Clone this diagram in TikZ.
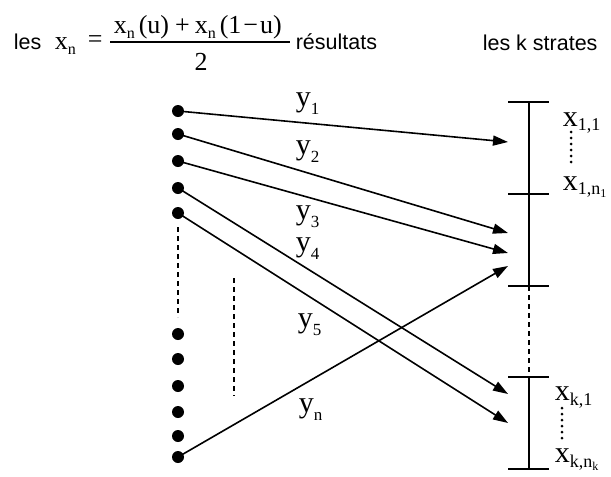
\documentclass[tikz,border=0pt]{standalone}
\usepackage{fontspec}
\setmainfont{Liberation Sans}
\newfontfamily\tms{Liberation Serif}
\usetikzlibrary{arrows.meta}
\newcommand\mysub[3]{\raisebox{-#1}{\fontsize{#2}{#2}\selectfont #3}}
\begin{document}
\begin{tikzpicture}[x=1pt,y=-1pt,line width=1.6pt,
  dotnode/.style={circle,fill=black,draw=none,inner sep=0pt,minimum size=12pt},
  arr/.style={-{Triangle[length=15pt,width=10pt]}},
  ylab/.style={anchor=base west,inner sep=0pt,font=\tms\fontsize{30}{30}\selectfont},
  xlab/.style={anchor=base west,inner sep=0pt,font=\tms\fontsize{30}{30}\selectfont},
  hdr/.style={anchor=base west,inner sep=0pt,font=\fontsize{21.5}{21.5}\selectfont},
  eq/.style={anchor=base west,inner sep=0pt,font=\tms\fontsize{26}{26}\selectfont},
  dashv/.style={line width=1.3pt,dash pattern=on 5pt off 4pt},
  tick/.style={line width=1.6pt},
  smalldots/.style={line width=3pt,line cap=round,dash pattern=on 0pt off 6pt}]
\useasboundingbox (0,0) rectangle (611,477);

% header
\node[hdr] (les) at (13,49) {les};
\node[eq] (xn) at (54,49) {x\mysub{5pt}{16}{n}};
\node[eq] (eqs) at (87,47) {=};
\node[eq] (num) at (113,33) {x\mysub{5pt}{16}{n}\hspace{4pt}(u)\hspace{6pt}+\hspace{5pt}x\mysub{5pt}{16}{n}\hspace{4pt}(1\hspace{2pt}−\hspace{2pt}u)};
\coordinate (fl) at (110,42);
\coordinate (fr) at (290,42);
\draw[line width=1.2pt] (fl) -- (fr);
\node[eq,anchor=base] (den) at (201,70) {2};
\node[hdr] (res) at (295,49) {résultats};
\node[hdr] (strates) at (482,50) {les k strates};

% left dots
\node[dotnode] (d1) at (178,111) {};
\node[dotnode] (d2) at (178,134) {};
\node[dotnode] (d3) at (178,161) {};
\node[dotnode] (d4) at (178,188) {};
\node[dotnode] (d5) at (178,213) {};
\node[dotnode] (d6) at (178,334) {};
\node[dotnode] (d7) at (178,359) {};
\node[dotnode] (d8) at (178,386) {};
\node[dotnode] (d9) at (178,412) {};
\node[dotnode] (d10) at (178,436) {};
\node[dotnode] (d11) at (178,457) {};
\coordinate (ldt) at (178,227);
\coordinate (ldb) at (178,317);
\draw[dashv] (ldt) -- (ldb);
\coordinate (mdt) at (234,278);
\coordinate (mdb) at (234,396);
\draw[dashv] (mdt) -- (mdb);

% strata axis
\coordinate (t1) at (529,102);
\coordinate (t2) at (529,194);
\coordinate (t3) at (529,286);
\coordinate (t4) at (529,377);
\coordinate (t5) at (529,469);
\draw (t1) -- (t3);
\draw[dashv] (t3) -- (t4);
\draw (t4) -- (t5);
\foreach \t in {t1,t2,t3,t4,t5}{
  \draw[tick] ([xshift=-21pt]\t) -- ([xshift=20pt]\t);
}

% arrows
\coordinate (e1) at (508,142);
\coordinate (e2) at (508,233);
\coordinate (e3) at (508,253);
\coordinate (e4) at (508,394);
\coordinate (e5) at (508,423);
\coordinate (en) at (508,266);
\draw[arr] (d1.center) -- (e1);
\draw[arr] (d2.center) -- (e2);
\draw[arr] (d3.center) -- (e3);
\draw[arr] (d4.center) -- (e4);
\draw[arr] (d5.center) -- (e5);
\draw[arr] (d11.center) -- (en);

% y labels
\node[ylab] (y1) at (295,106) {y\mysub{8pt}{17}{1}};
\node[ylab] (y2) at (295,154) {y\mysub{8pt}{17}{2}};
\node[ylab] (y3) at (295,219) {y\mysub{8pt}{17}{3}};
\node[ylab] (y4) at (295,251) {y\mysub{8pt}{17}{4}};
\node[ylab] (y5) at (297,327) {y\mysub{8pt}{17}{5}};
\node[ylab] (yn) at (298,412) {y\mysub{8pt}{17}{n}};

% x labels
\node[xlab] (x11) at (562,126) {x\mysub{4pt}{18}{1,1}};
\node[xlab] (x1n) at (562,190) {x\mysub{4pt}{18}{1,n\mysub{3pt}{12}{1}}};
\coordinate (s1t) at (571,132);
\coordinate (s1b) at (571,163);
\draw[smalldots] (s1t) -- (s1b);
\node[xlab] (xk1) at (554,400) {x\mysub{5pt}{18}{k,1}};
\node[xlab] (xkn) at (554,462) {x\mysub{5pt}{18}{k,n\mysub{3pt}{12}{k}}};
\coordinate (skt) at (562,408);
\coordinate (skb) at (562,439);
\draw[smalldots] (skt) -- (skb);
\end{tikzpicture}
\end{document}
